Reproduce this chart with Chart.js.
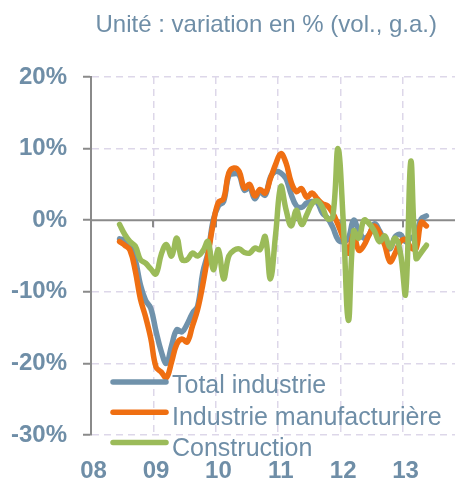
<!DOCTYPE html>
<html>
<head>
<meta charset="utf-8">
<script src="https://cdn.jsdelivr.net/npm/chart.js@4"></script>
<style>
  body { margin: 0; background: #fff; }
  canvas { display: block; }
</style>
</head>
<body>
<canvas id="chart" width="455" height="482"></canvas>
<script>
// monthly categories, janv. 2008 -> oct. 2013
const years = ["08", "09", "10", "11", "12", "13"];
const categories = [];
years.forEach(y => {
  for (let m = 1; m <= 12; m++) categories.push("20" + y + "-" + String(m).padStart(2, "0"));
});
categories.length = 70;

// series start in june 2008 (index 5)
const firstMonth = "2008-06";

const totalIndustrie = [
  -2.6, -2.8, -3.6, -5.5, -9.0, -11.2, -12.3,
  -15.5, -18.3, -20.0, -17.5, -15.3, -15.6, -14.5, -13.0, -12.0, -7.3, -4.5, 0.0,
  2.0, 2.6, 6.2, 6.5, 6.3, 4.2, 4.6, 3.0, 4.0, 3.5, 6.0, 6.8,
  6.6, 5.8, 3.6, 2.0, 1.8, 2.4, 2.6, 2.5, 1.0, 0.3, -1.0, -2.7,
  -3.0, -2.5, 0.0, -1.5, -2.5, -2.0, -0.5, -1.5, -3.0, -4.0, -2.3, -2.0,
  -3.0, -2.5, -2.0, 0.2, 0.6
];
const industrieManuf = [
  -3.0, -3.5, -4.2, -7.0, -11.0, -13.5, -16.5,
  -20.5, -21.2, -22.0, -19.8, -17.3, -16.6, -17.0, -14.8, -12.5, -9.0, -4.8, -0.5,
  2.5, 3.0, 6.6, 7.3, 6.8, 4.5, 5.0, 3.4, 4.3, 3.8, 5.8, 7.8,
  9.3, 8.0, 5.3, 4.0, 4.4, 3.2, 3.8, 3.0, 2.3, 2.0, 1.0, -0.6,
  -2.5, -4.6, -2.0, -4.2, -3.5, -2.0, -0.8, -1.8, -3.5, -5.8, -4.6, -3.0,
  -2.7, -3.8, -4.0, -0.3, -0.8
];
const construction = [
  -0.6, -2.0, -3.0, -3.6, -5.5, -6.0, -6.8,
  -7.5, -4.8, -3.4, -5.0, -2.5, -5.5, -5.5, -4.6, -5.0, -4.3, -3.0, -6.9,
  -4.1, -8.2, -5.0, -4.2, -4.0, -4.5, -4.6, -3.9, -4.1, -2.3, -8.2, -2.0,
  4.7, 1.5, -0.8, 1.4, -0.6, 0.8, 2.3, 2.7, 1.8, 0.2, 0.5, 10.0,
  0.0, -14.0, -1.5, -2.5, 0.0, -0.5, -1.5, -3.0, -2.2, -3.8, -2.5, -4.5,
  -10.3, 8.2, -5.3, -4.5, -3.5
];

const yTicks = [-30, -20, -10, 0, 10, 20];
const titleText = "Unité : variation en % (vol., g.a.)";

const textColor = "#6f8ea7";
const font = 'Arial, "Liberation Sans", sans-serif';

const start = categories.indexOf(firstMonth);
function pad(values) {
  const out = new Array(categories.length).fill(null);
  values.forEach((v, i) => { out[start + i] = v; });
  return out;
}

const decor = {
  id: "decor",
  beforeDatasetsDraw(chart) {
    const { ctx, chartArea, scales } = chart;
    const y0 = scales.y.getPixelForValue(0);
    ctx.save();
    ctx.strokeStyle = "#8a8a8a";
    ctx.lineWidth = 2;
    ctx.beginPath();
    ctx.moveTo(chartArea.left, y0);
    ctx.lineTo(chartArea.right, y0);
    // small ticks at each year boundary
    categories.forEach((c, i) => {
      if (i > 0 && c.endsWith("-01")) {
        const x = Math.round(scales.x.getPixelForValue(i) - scales.x.width / categories.length / 2);
        ctx.moveTo(x, y0);
        ctx.lineTo(x, y0 + 7);
      }
    });
    ctx.stroke();
    ctx.restore();
  },
  afterDraw(chart) {
    const { ctx } = chart;
    ctx.save();
    ctx.fillStyle = textColor;
    ctx.font = "24px " + font;
    ctx.textAlign = "right";
    ctx.textBaseline = "alphabetic";
    ctx.fillText(titleText, 437, 32);

    // legend inside the plot
    ctx.textAlign = "left";
    ctx.font = "25px " + font;
    chart.data.datasets.forEach((ds, i) => {
      const ly = 382 + i * 30.3;
      ctx.strokeStyle = ds.borderColor;
      ctx.lineWidth = 5.5;
      ctx.lineCap = "round";
      ctx.beginPath();
      ctx.moveTo(113, ly);
      ctx.lineTo(166, ly);
      ctx.stroke();
      ctx.fillText(ds.label, 172, 393 + i * 31.7);
    });
    ctx.restore();
  }
};

new Chart(document.getElementById("chart"), {
  type: "line",
  data: {
    labels: categories,
    datasets: [
      {
        label: "Total industrie",
        data: pad(totalIndustrie),
        borderColor: "#7092ab",
        order: 3
      },
      {
        label: "Industrie manufacturière",
        data: pad(industrieManuf),
        borderColor: "#ef6f12",
        order: 2
      },
      {
        label: "Construction",
        data: pad(construction),
        borderColor: "#9bbb59",
        order: 1
      }
    ]
  },
  options: {
    responsive: false,
    animation: false,
    layout: { padding: { top: 77, left: 0, right: 0, bottom: 0 } },
    elements: {
      line: { borderWidth: 5.5, tension: 0.4, borderCapStyle: "round", borderJoinStyle: "round", fill: false },
      point: { radius: 0, hoverRadius: 0 }
    },
    scales: {
      x: {
        type: "category",
        offset: true,
        afterFit(s) { s.height = 47; },
        grid: {
          offset: true,
          drawTicks: true,
          tickLength: 22,
          tickColor: "rgba(0,0,0,0)",
          lineWidth: 1.5,
          color: c => (c.index > 0 && c.index % 12 === 0) ? "#ddd7e9" : "rgba(0,0,0,0)"
        },
        border: { display: false, dash: [7, 5] },
        ticks: {
          autoSkip: false,
          maxRotation: 0,
          minRotation: 0,
          padding: 0,
          color: textColor,
          font: { family: font, size: 24, weight: "bold" },
          callback: (v, i) => (i % 12 === 0 ? years[i / 12] : "")
        }
      },
      y: {
        min: yTicks[0],
        max: yTicks[yTicks.length - 1],
        afterFit(s) { s.width = 91; },
        afterBuildTicks(s) { s.ticks = yTicks.map(v => ({ value: v })); },
        grid: {
          lineWidth: 1.5,
          color: c => (c.tick && c.tick.value === 0) ? "rgba(0,0,0,0)" : "#ddd7e9",
          tickLength: 8,
          tickColor: "#8a8a8a",
          tickWidth: 2,
          tickBorderDash: []
        },
        border: { display: true, color: "#8a8a8a", width: 2, dash: [7, 5] },
        ticks: {
          padding: 16,
          color: textColor,
          font: { family: font, size: 24, weight: "bold" },
          callback: v => v + "%"
        }
      }
    },
    plugins: {
      legend: { display: false },
      tooltip: { enabled: false },
      title: { display: false }
    }
  },
  plugins: [decor]
});
</script>
</body>
</html>
